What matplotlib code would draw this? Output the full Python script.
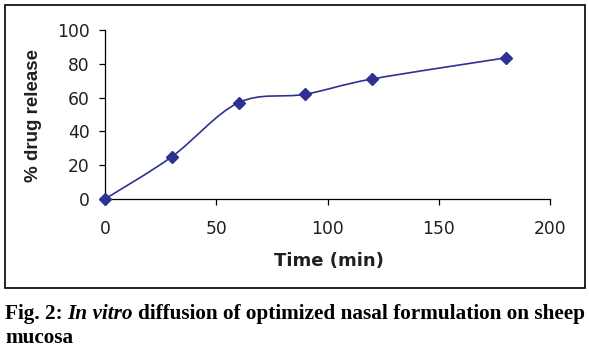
import matplotlib
matplotlib.use("Agg")
import matplotlib.pyplot as plt
from matplotlib.path import Path
from matplotlib.patches import PathPatch, Rectangle
from matplotlib.transforms import IdentityTransform
import numpy as np

# ---- data ----
time_min = [0, 30, 60, 90, 120, 180]
drug_release = [0, 25, 57, 62, 71, 83.5]
x_ticks = [0, 50, 100, 150, 200]
y_ticks = [0, 20, 40, 60, 80, 100]
x_label = "Time (min)"
y_label = "% drug release"
caption_line1 = [("Fig. 2:", "normal"), ("In vitro", "italic"),
                 ("diffusion of optimized nasal formulation on sheep", "normal")]
caption_line2 = "mucosa"

W, H = 589, 351
line_color = "#2E3192"

fig = plt.figure(figsize=(W / 100, H / 100), dpi=100)
fig.patch.set_facecolor("white")

# outer frame
fig.patches.append(Rectangle((5 / W, 1 - 288 / H), 580 / W, 283 / H,
                             transform=fig.transFigure, fill=False,
                             edgecolor="black", linewidth=1.2))

ax = fig.add_axes([105 / W, 1 - 199 / H, 445 / W, 169 / H])
ax.set_xlim(0, 200)
ax.set_ylim(0, 100)
for s in ("top", "right"):
    ax.spines[s].set_visible(False)
for s in ("left", "bottom"):
    ax.spines[s].set_linewidth(0.9)
    ax.spines[s].set_color("black")
ax.set_xticks(x_ticks)
ax.set_yticks(y_ticks)
ax.tick_params(axis="both", direction="out", length=4.5, width=0.9,
               labelsize=12.3, labelcolor="#231f20")
ax.tick_params(axis="x", pad=10.5)
ax.tick_params(axis="y", pad=6.5)
for lab in ax.get_xticklabels() + ax.get_yticklabels():
    lab.set_family("DejaVu Sans")
ax.patch.set_alpha(0)

# Excel-style smoothed line (Catmull-Rom bezier through the data points)
pts = np.column_stack([time_min, drug_release]).astype(float)
n = len(pts)
verts = [pts[0]]
codes = [Path.MOVETO]
for i in range(n - 1):
    p_prev = pts[i - 1] if i > 0 else pts[i]
    p0 = pts[i]
    p1 = pts[i + 1]
    p_next = pts[i + 2] if i + 2 < n else pts[i + 1]
    c1 = p0 + (p1 - p_prev) / 6.0
    c2 = p1 - (p_next - p0) / 6.0
    verts += [c1, c2, p1]
    codes += [Path.CURVE4] * 3
ax.add_patch(PathPatch(Path(verts, codes), fill=False, edgecolor=line_color,
                       linewidth=1.2, clip_on=False))
ax.plot(time_min, drug_release, linestyle="none", marker="D", markersize=6,
        color=line_color, clip_on=False, zorder=5)

# axis labels
fig.text(328.5 / W, 1 - 266 / H, x_label, ha="center", va="baseline",
         fontsize=13, fontweight="bold", family="DejaVu Sans", color="#231f20")
fig.text(33 / W, 1 - 115 / H, y_label, ha="center", va="center", rotation=90,
         fontsize=13.5, fontweight="bold", family="Liberation Sans", color="#231f20")

# caption
renderer = fig.canvas.get_renderer()
cap_family = "Liberation Serif"


def measure(s, size, style):
    t = fig.text(0, 0, s, fontsize=size, fontweight="bold", fontstyle=style,
                 family=cap_family, transform=IdentityTransform())
    w = t.get_window_extent(renderer).width
    t.remove()
    return w


def line_width(size):
    ws = [measure(s, size, st) for s, st in caption_line1]
    return sum(ws), ws


base = 12.0
tot, _ = line_width(base)
sp = measure("x x", base, "normal") - measure("xx", base, "normal")
size = base * 580 / (tot + 2 * sp)
tot, ws = line_width(size)
gap = (580 - tot) / (len(caption_line1) - 1)
x = 5
y1 = H - 319
for (s, st), w in zip(caption_line1, ws):
    fig.text(x, y1, s, fontsize=size, fontweight="bold", fontstyle=st,
             family=cap_family, transform=IdentityTransform(), va="baseline",
             color="black")
    x += w + gap
fig.text(5, H - 343, caption_line2, fontsize=size, fontweight="bold",
         family=cap_family, transform=IdentityTransform(), va="baseline",
         color="black")

fig.savefig("out.png", dpi=100)
